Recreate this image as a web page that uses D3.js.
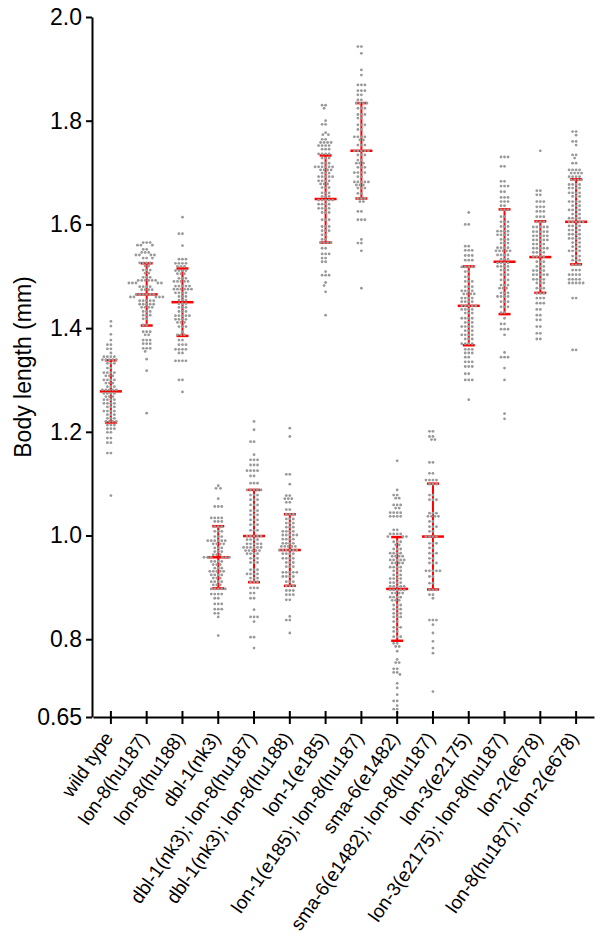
<!DOCTYPE html>
<html>
<head>
<meta charset="utf-8">
<script src="https://cdn.jsdelivr.net/npm/d3@7"></script>
<style>
  html, body { margin: 0; padding: 0; background: #fff; }
  svg { display: block; }
  text { font-family: "Liberation Sans", Arial, Helvetica, sans-serif; fill: #000; }
</style>
</head>
<body>
<svg id="chart" width="600" height="949"></svg>
<script>
// ---------------- DATA ----------------
const categories = [
  "wild type", "lon-8(hu187)", "lon-8(hu188)", "dbl-1(nk3)",
  "dbl-1(nk3); lon-8(hu187)", "dbl-1(nk3); lon-8(hu188)",
  "lon-1(e185)", "lon-1(e185); lon-8(hu187)",
  "sma-6(e1482)", "sma-6(e1482); lon-8(hu187)",
  "lon-3(e2175)", "lon-3(e2175); lon-8(hu187)",
  "lon-2(e678)", "lon-8(hu187); lon-2(e678)"
];
const means = [1.278, 1.465, 1.450, 0.958, 0.999, 0.972, 1.649, 1.742, 0.897, 0.998, 1.443, 1.528, 1.537, 1.605];
const sds   = [0.060, 0.060, 0.065, 0.060, 0.089, 0.069, 0.084, 0.092, 0.100, 0.102, 0.076, 0.101, 0.069, 0.082];
const yTickValues = [0.65, 0.8, 1.0, 1.2, 1.4, 1.6, 1.8, 2.0];
const yTickLabels = ["0.65", "0.8", "1.0", "1.2", "1.4", "1.6", "1.8", "2.0"];
const yTitle = "Body length (mm)";

// individual worms: [body length (mm), number of worms at that length]
const wildType = [[1.413,1],[1.404,1],[1.388,1],[1.377,1],[1.368,2],[1.360,2],[1.352,1],[1.345,4],[1.339,5],[1.332,3],[1.323,2],[1.314,4],[1.308,3],[1.300,4],[1.294,3],[1.287,3],[1.281,5],[1.274,4],[1.268,3],[1.262,4],[1.255,4],[1.248,3],[1.240,4],[1.233,3],[1.226,3],[1.220,4],[1.213,3],[1.206,3],[1.199,2],[1.188,2],[1.179,2],[1.159,2],[1.077,1]];
const lon8hu187 = [[1.565,3],[1.560,3],[1.552,2],[1.546,3],[1.541,4],[1.535,3],[1.526,4],[1.520,2],[1.512,3],[1.506,2],[1.498,3],[1.492,6],[1.487,5],[1.480,4],[1.474,4],[1.465,6],[1.460,5],[1.453,5],[1.446,5],[1.440,4],[1.432,3],[1.425,3],[1.418,2],[1.406,2],[1.393,3],[1.387,2],[1.377,3],[1.370,3],[1.361,3],[1.355,1],[1.340,1],[1.318,1],[1.236,1]];
const lon8hu188 = [[1.614,1],[1.582,2],[1.559,1],[1.533,3],[1.525,4],[1.519,3],[1.511,4],[1.505,3],[1.496,3],[1.490,5],[1.481,5],[1.475,6],[1.468,4],[1.461,3],[1.454,3],[1.447,3],[1.440,3],[1.432,3],[1.424,5],[1.417,4],[1.411,3],[1.403,3],[1.393,1],[1.387,3],[1.377,2],[1.368,3],[1.359,4],[1.352,2],[1.337,4],[1.300,2],[1.277,1]];
const dbl1 = [[1.096,1],[1.091,2],[1.071,1],[1.056,3],[1.034,4],[1.027,3],[1.017,3],[1.008,3],[0.998,3],[0.990,6],[0.984,4],[0.976,3],[0.969,3],[0.963,3],[0.958,6],[0.950,4],[0.944,3],[0.937,3],[0.931,5],[0.924,4],[0.918,3],[0.911,4],[0.905,3],[0.897,5],[0.887,4],[0.879,2],[0.868,3],[0.858,3],[0.850,2],[0.843,1],[0.807,1]];
const dbl1lon8hu187 = [[1.220,1],[1.204,1],[1.181,2],[1.156,1],[1.146,3],[1.136,3],[1.125,4],[1.115,2],[1.101,3],[1.088,5],[1.078,3],[1.069,3],[1.059,3],[1.048,3],[1.040,3],[1.030,3],[1.021,3],[1.010,3],[0.999,5],[0.992,4],[0.984,5],[0.977,6],[0.971,5],[0.965,4],[0.956,3],[0.948,3],[0.934,3],[0.926,4],[0.918,3],[0.911,3],[0.899,3],[0.889,2],[0.879,2],[0.857,1],[0.843,3],[0.834,1],[0.804,2],[0.783,1]];
const dbl1lon8hu188 = [[1.207,1],[1.191,1],[1.118,2],[1.099,1],[1.077,2],[1.071,3],[1.064,2],[1.050,2],[1.041,3],[1.032,3],[1.024,3],[1.016,3],[1.008,4],[1.001,5],[0.993,4],[0.985,4],[0.979,5],[0.972,6],[0.965,4],[0.956,4],[0.948,3],[0.940,3],[0.929,5],[0.921,4],[0.911,3],[0.903,3],[0.894,3],[0.886,3],[0.876,2],[0.844,1],[0.837,2],[0.812,1]];
const lon1 = [[1.830,2],[1.824,1],[1.800,1],[1.793,2],[1.777,1],[1.773,2],[1.764,2],[1.758,4],[1.752,4],[1.745,3],[1.736,4],[1.728,3],[1.718,3],[1.711,6],[1.705,4],[1.699,3],[1.692,5],[1.684,4],[1.678,3],[1.671,3],[1.661,3],[1.654,3],[1.647,5],[1.639,4],[1.631,4],[1.623,3],[1.609,3],[1.596,3],[1.588,3],[1.580,2],[1.571,2],[1.565,4],[1.554,2],[1.543,3],[1.535,2],[1.528,2],[1.509,1],[1.502,3],[1.488,1],[1.482,1],[1.470,1],[1.425,1]];
const lon1lon8 = [[1.943,2],[1.930,1],[1.898,1],[1.888,1],[1.869,3],[1.858,3],[1.850,2],[1.840,2],[1.834,4],[1.824,3],[1.812,3],[1.805,2],[1.792,3],[1.783,2],[1.769,4],[1.763,2],[1.753,3],[1.742,5],[1.734,3],[1.724,2],[1.718,3],[1.710,3],[1.700,4],[1.692,2],[1.682,5],[1.676,3],[1.670,3],[1.660,2],[1.650,3],[1.644,2],[1.625,2],[1.609,3],[1.571,1],[1.564,2],[1.549,1],[1.477,1]];
const sma6 = [[1.144,1],[1.088,1],[1.078,2],[1.072,2],[1.059,3],[1.053,2],[1.044,4],[1.037,4],[1.011,2],[1.003,4],[0.998,3],[0.988,3],[0.982,2],[0.974,3],[0.966,4],[0.960,4],[0.953,5],[0.947,4],[0.939,4],[0.932,3],[0.924,3],[0.917,4],[0.909,4],[0.902,5],[0.895,5],[0.889,4],[0.881,4],[0.875,3],[0.866,3],[0.858,3],[0.850,3],[0.843,3],[0.834,2],[0.823,3],[0.815,2],[0.805,3],[0.792,2],[0.786,2],[0.777,1],[0.761,1],[0.755,2],[0.743,2],[0.736,2],[0.732,1],[0.715,1],[0.706,1],[0.693,1],[0.681,2],[0.672,1],[0.665,2],[0.658,1]];
const sma6lon8 = [[1.201,2],[1.191,2],[1.185,2],[1.141,2],[1.120,2],[1.107,4],[1.099,3],[1.078,2],[1.069,3],[1.043,3],[1.037,4],[1.027,2],[1.017,3],[1.008,2],[0.998,4],[0.985,3],[0.976,2],[0.966,3],[0.956,2],[0.947,3],[0.932,5],[0.921,2],[0.908,2],[0.895,3],[0.886,2],[0.879,1],[0.837,3],[0.828,1],[0.812,1],[0.796,1],[0.783,1],[0.773,1],[0.699,1]];
const lon3 = [[1.623,1],[1.600,2],[1.558,2],[1.550,3],[1.540,3],[1.531,3],[1.518,4],[1.509,2],[1.499,2],[1.490,3],[1.480,3],[1.472,4],[1.466,4],[1.458,4],[1.451,4],[1.443,5],[1.436,4],[1.429,3],[1.419,4],[1.411,3],[1.403,4],[1.395,3],[1.387,4],[1.379,3],[1.370,4],[1.359,3],[1.352,3],[1.344,2],[1.335,3],[1.326,3],[1.312,2],[1.300,3],[1.262,1]];
const lon3lon8 = [[1.730,3],[1.712,2],[1.683,2],[1.674,3],[1.663,2],[1.652,3],[1.644,3],[1.636,2],[1.628,3],[1.615,2],[1.605,3],[1.596,3],[1.587,4],[1.580,4],[1.571,3],[1.564,3],[1.555,4],[1.549,5],[1.541,4],[1.533,3],[1.526,4],[1.519,4],[1.512,3],[1.503,3],[1.493,3],[1.483,3],[1.477,3],[1.468,3],[1.461,4],[1.451,3],[1.441,3],[1.430,2],[1.419,1],[1.408,2],[1.398,3],[1.387,1],[1.353,1],[1.344,3],[1.323,1],[1.300,1],[1.235,1],[1.225,1]];
const lon2 = [[1.742,1],[1.665,2],[1.657,2],[1.644,3],[1.634,3],[1.625,3],[1.615,3],[1.605,3],[1.595,5],[1.586,5],[1.578,5],[1.570,5],[1.562,4],[1.554,5],[1.546,4],[1.538,4],[1.528,3],[1.519,3],[1.511,4],[1.503,5],[1.494,4],[1.487,3],[1.477,3],[1.467,3],[1.458,3],[1.448,3],[1.436,2],[1.425,2],[1.416,2],[1.403,2],[1.390,2],[1.379,2]];
const lon8lon2 = [[1.779,2],[1.772,1],[1.760,2],[1.753,1],[1.734,2],[1.728,1],[1.718,2],[1.705,4],[1.699,4],[1.692,4],[1.686,4],[1.677,4],[1.670,4],[1.661,4],[1.654,3],[1.644,4],[1.636,3],[1.628,4],[1.620,3],[1.612,4],[1.605,5],[1.597,4],[1.589,4],[1.581,4],[1.573,4],[1.565,3],[1.557,3],[1.549,4],[1.539,3],[1.531,3],[1.522,3],[1.512,3],[1.503,4],[1.494,4],[1.487,5],[1.458,2],[1.358,2]];

const groupPoints = [wildType, lon8hu187, lon8hu188, dbl1, dbl1lon8hu187, dbl1lon8hu188,
  lon1, lon1lon8, sma6, sma6lon8, lon3, lon3lon8, lon2, lon8lon2];

// ---------------- CHART ----------------
const svg = d3.select("#chart");
const y = d3.scaleLinear().domain([0.65, 2.0]).range([717, 17]);
const x = d3.scaleBand().domain(categories).range([93, 594]).padding(0);
const cx = c => x(c) + x.bandwidth() / 2;

const RED = "#ff0000";
const DOT = "#999999";
const DOT_R = 1.4;
const DOT_GAP = 3.4;

// error bars (drawn first; dots are plotted on top as in the original)
const bars = svg.append("g");
categories.forEach((c, i) => {
  const xc = cx(c);
  const lo = means[i] - sds[i], hi = means[i] + sds[i];
  bars.append("line").attr("x1", xc).attr("x2", xc).attr("y1", y(lo)).attr("y2", y(hi))
    .attr("stroke", RED).attr("stroke-width", 2);
  [lo, hi].forEach(v => bars.append("line").attr("x1", xc - 6).attr("x2", xc + 6)
    .attr("y1", y(v)).attr("y2", y(v)).attr("stroke", RED).attr("stroke-width", 2.5));
  bars.append("line").attr("x1", xc - 11).attr("x2", xc + 11)
    .attr("y1", y(means[i])).attr("y2", y(means[i])).attr("stroke", RED).attr("stroke-width", 2.5);
});

// beeswarm placement of individual dots
const dots = svg.append("g");
categories.forEach((c, i) => {
  const xc = cx(c);
  const pts = [];
  groupPoints[i].forEach(([v, n]) => { for (let k = 0; k < n; k++) pts.push(y(v)); });
  pts.sort((a, b) => a - b);
  const placed = [];
  pts.forEach(py => {
    let off = 0;
    for (let step = 0; step < 400; step++) {
      const cand = (step % 2 === 0 ? 1 : -1) * Math.ceil(step / 2) * 0.25;
      const ok = placed.every(p => {
        const dy = p.y - py, dx = p.x - cand;
        return dx * dx + dy * dy >= DOT_GAP * DOT_GAP * 0.98;
      });
      if (ok) { off = cand; break; }
    }
    placed.push({ x: off, y: py });
  });
  dots.selectAll(null).data(placed).enter().append("circle")
    .attr("cx", d => xc + d.x).attr("cy", d => d.y).attr("r", DOT_R).attr("fill", DOT);
});

// y axis
const yAxis = svg.append("g").attr("transform", "translate(92,0)")
  .call(d3.axisLeft(y).tickValues(yTickValues)
    .tickFormat((d, i) => yTickLabels[i]).tickSize(6).tickSizeOuter(0).tickPadding(4));
yAxis.select(".domain").attr("stroke", "#000").attr("stroke-width", 2);
yAxis.selectAll(".tick line").attr("stroke", "#000").attr("stroke-width", 2);
yAxis.selectAll(".tick text").attr("font-size", 23)
  .attr("font-family", "'Liberation Sans', Arial, sans-serif").attr("fill", "#000");

// x axis
const xAxis = svg.append("g").attr("transform", "translate(0,717)")
  .call(d3.axisBottom(x).tickSize(7).tickSizeOuter(0).tickFormat(""));
xAxis.select(".domain").attr("stroke", "#000").attr("stroke-width", 2);
xAxis.selectAll(".tick line").attr("y1", -6).attr("y2", 7).attr("stroke", "#000").attr("stroke-width", 2);

// rotated category labels
svg.append("g").selectAll("text").data(categories).enter().append("text")
  .attr("transform", d => `translate(${cx(d) + 3},738) rotate(-55)`)
  .attr("text-anchor", "end")
  .attr("font-size", 19)
  .text(d => d);

// y title
svg.append("text")
  .attr("transform", "translate(31,367) rotate(-90)")
  .attr("text-anchor", "middle")
  .attr("font-size", 23)
  .text(yTitle);
</script>
</body>
</html>
